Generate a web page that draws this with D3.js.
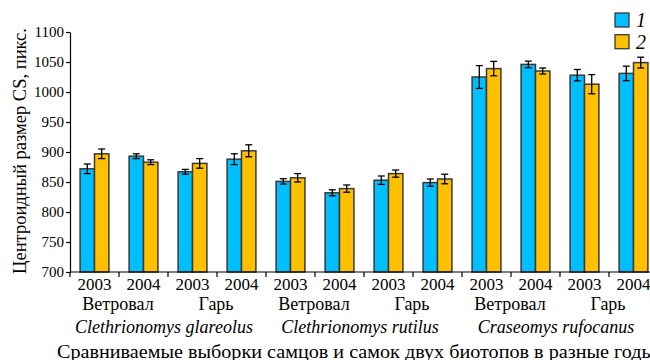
<!DOCTYPE html>
<html><head><meta charset="utf-8">
<script src="https://cdn.jsdelivr.net/npm/d3@7"></script>
<style>body{margin:0;background:#fff}</style>
</head><body><svg id="c" width="650" height="360"></svg>
<script>
const years = ["2003","2004","2003","2004","2003","2004","2003","2004","2003","2004","2003","2004"];
const habitats = ["Ветровал","Гарь","Ветровал","Гарь","Ветровал","Гарь"];
const species = ["Clethrionomys glareolus","Clethrionomys rutilus","Craseomys rufocanus"];
const seriesNames = ["1","2"];
const series1 = [872, 893, 867, 888, 851, 832, 853, 849, 1025, 1046, 1028, 1031];
const err1    = [8, 4, 4, 9, 4.5, 5, 7, 6, 19, 5.5, 9.5, 12];
const series2 = [897, 883, 881, 902, 857, 839, 864, 855, 1039, 1035, 1013, 1049];
const err2    = [8, 4, 8, 10, 7, 6, 6, 8, 12, 5, 16, 9];
const yTicks = [700, 750, 800, 850, 900, 950, 1000, 1050, 1100];
const yTitle = "Центроидный размер CS, пикс.";
const xTitle = "Сравниваемые выборки самцов и самок двух биотопов в разные годы";
const colors = ["#00BFFF", "#FFC000"];

const FONT = "Liberation Serif";
const svg = d3.select("#c");
const L = 70, T = 32, B = 272, bandW = 49;
const idx = d3.range(years.length);
const x = d3.scaleBand().domain(idx).range([L, L + bandW * years.length]).padding(0);
const xs = d3.scaleBand().domain(seriesNames).range([0, x.bandwidth()]).paddingOuter(0.7).paddingInner(0);
const y = d3.scaleLinear().domain([700, 1100]).range([B, T]);

const vals = [series1, series2], errs = [err1, err2];

// bars
seriesNames.forEach((s, si) => {
  svg.append("g").selectAll("rect").data(idx).join("rect")
    .attr("x", i => x(i) + xs(s))
    .attr("y", i => y(vals[si][i]))
    .attr("width", xs.bandwidth())
    .attr("height", i => y(700) - y(vals[si][i]))
    .attr("fill", colors[si]).attr("stroke", "#3a3a3a").attr("stroke-width", 1.5);
});
// error bars
seriesNames.forEach((s, si) => {
  const g = svg.append("g").attr("stroke", "#000").attr("stroke-width", 1.3);
  idx.forEach(i => {
    const cx = x(i) + xs(s) + xs.bandwidth() / 2;
    const y1 = y(vals[si][i] + errs[si][i]), y2 = y(vals[si][i] - errs[si][i]);
    g.append("line").attr("x1", cx).attr("x2", cx).attr("y1", y1).attr("y2", y2);
    g.append("line").attr("x1", cx - 3.5).attr("x2", cx + 3.5).attr("y1", y1).attr("y2", y1);
    g.append("line").attr("x1", cx - 3.5).attr("x2", cx + 3.5).attr("y1", y2).attr("y2", y2);
  });
});

// y axis
const ya = svg.append("g").attr("transform", `translate(${L},0)`)
  .call(d3.axisLeft(y).tickValues(yTicks).tickSize(4).tickSizeOuter(0).tickFormat(d3.format("d")));
ya.attr("font-family", null).attr("font-size", null);
ya.selectAll("path,line").attr("stroke", "#000").attr("stroke-width", 1.2);
ya.selectAll("text").attr("font-size", 15).attr("fill", "#000").attr("x", -6);

// x axis line and ticks
svg.append("line").attr("x1", L).attr("x2", L + bandW * years.length).attr("y1", B).attr("y2", B)
  .attr("stroke", "#000").attr("stroke-width", 1.2);
svg.append("g").selectAll("line").data(d3.range(years.length + 1)).join("line")
  .attr("x1", i => L + i * x.step()).attr("x2", i => L + i * x.step())
  .attr("y1", B).attr("y2", B + 5).attr("stroke", "#000").attr("stroke-width", 1.2);

// year labels
svg.append("g").selectAll("text").data(idx).join("text")
  .attr("x", i => x(i) + x.bandwidth() / 2).attr("y", 289.5)
  .attr("text-anchor", "middle").attr("font-size", 17).text(i => years[i]);
// habitat labels
svg.append("g").selectAll("text").data(habitats).join("text")
  .attr("x", (d, k) => x(2 * k) + x.step() - 1).attr("y", 309.5)
  .attr("text-anchor", "middle").attr("font-size", 18).text(d => d);
// species labels
svg.append("g").selectAll("text").data(species).join("text")
  .attr("x", (d, k) => x(4 * k) + 2 * x.step() - 4).attr("y", 332.5)
  .attr("text-anchor", "middle").attr("font-size", 18).attr("font-style", "italic").text(d => d);
// x title
svg.append("text").attr("x", 57).attr("y", 357.5).attr("font-size", 19)
  .attr("textLength", 598).attr("lengthAdjust", "spacingAndGlyphs").text(xTitle);
// y title
svg.append("text").attr("transform", `translate(26,${(T + B) / 2 - 1}) rotate(-90)`)
  .attr("text-anchor", "middle").attr("font-size", 18.5).text(yTitle);

// legend
const lg = svg.append("g");
seriesNames.forEach((s, si) => {
  lg.append("rect").attr("x", 615).attr("y", 13 + si * 21.7).attr("width", 14).attr("height", 14)
    .attr("fill", colors[si]).attr("stroke", "#3a3a3a").attr("stroke-width", 1.3);
  lg.append("text").attr("x", 636).attr("y", 27 + si * 21.7).attr("font-size", 20)
    .attr("font-style", "italic").text(s);
});
svg.selectAll("text").attr("font-family", FONT).style("font-family", FONT).attr("fill", "#000");
</script></body></html>
